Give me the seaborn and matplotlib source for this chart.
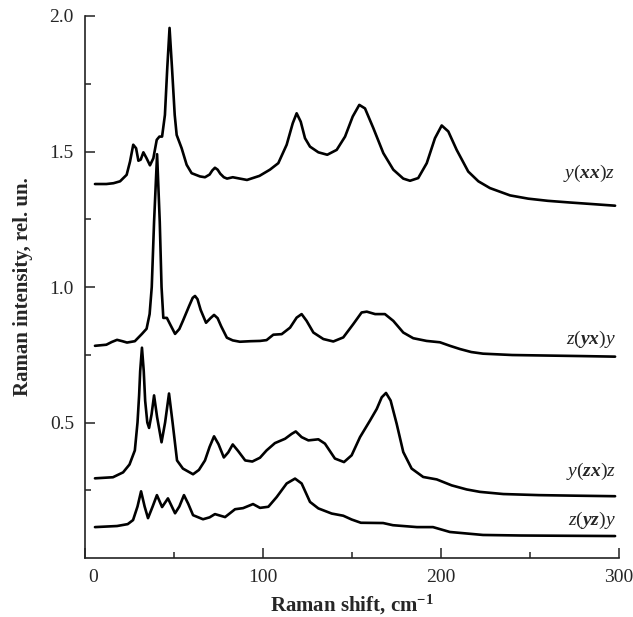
import numpy as np
import pandas as pd
import matplotlib
matplotlib.use("Agg")
import matplotlib.pyplot as plt
import matplotlib.transforms as mtransforms
import seaborn as sns
from matplotlib.ticker import FixedLocator

sns.set_theme(style="ticks")
plt.rcParams['font.family'] = ['Liberation Serif', 'DejaVu Serif']
plt.rcParams['mathtext.fontset'] = 'custom'
plt.rcParams['mathtext.rm'] = 'Liberation Serif'
plt.rcParams['mathtext.it'] = 'Liberation Serif:italic'
plt.rcParams['mathtext.bf'] = 'Liberation Serif:bold:italic'
plt.rcParams['mathtext.sf'] = 'Liberation Serif:bold'

# ---- data (Raman shift cm^-1, intensity rel. un.) ----
xx_x = [5.6, 12, 16, 19.7, 23.4, 25.3, 27.1, 28.7, 30, 31.3, 32.8, 34.6, 36.5, 38.4, 40.3, 41.8, 43.3, 44.9, 46.2,
        47.5, 48.9, 50.4, 51.5, 54.3, 57.1, 59.9, 64.6, 67.4, 70, 71.5, 73, 74.5, 76, 78, 79.8, 83, 87, 91, 98,
        103.9, 108.6, 113.3, 116.7, 118.9, 121.2, 123.6, 126.4, 131.1, 136.1, 141.4, 146.1, 150.4, 154.1,
        157.3, 162, 167.6, 173.2, 178.8, 182.6, 187.2, 192, 196.6, 200.4, 204.1, 208.8, 215.3, 221, 227.5,
        238.8, 249, 260, 272, 285, 297.8]
xx_y = [1.38, 1.38, 1.383, 1.39, 1.414, 1.463, 1.525, 1.512, 1.466, 1.47, 1.497, 1.475, 1.449, 1.475, 1.543, 1.555, 1.555, 1.635, 1.806,
        1.956, 1.806, 1.635, 1.561, 1.512, 1.451, 1.42, 1.408, 1.405, 1.415, 1.43, 1.44, 1.433, 1.418, 1.405, 1.40, 1.405, 1.40, 1.395, 1.41,
        1.433, 1.457, 1.525, 1.604, 1.641, 1.61, 1.549, 1.518, 1.497, 1.488, 1.506, 1.555, 1.629, 1.672,
        1.659, 1.586, 1.494, 1.433, 1.40, 1.392, 1.402, 1.457, 1.549, 1.596, 1.574, 1.506, 1.426, 1.39, 1.365,
        1.338, 1.326, 1.318, 1.312, 1.306, 1.30]

yx_x = [5.6, 12, 15, 18, 21, 23.6, 28, 32, 34.6, 36.3, 37.5, 38.8, 40.5, 42, 43, 44, 46, 48, 50.6, 53, 55,
        58.5, 60.5, 61.8, 63.2, 65, 68, 70.5, 72.5, 74.5, 76.5, 79.7, 83, 87, 93, 98.3, 102, 105.8, 110.5,
        115.2, 118.9, 121.7, 124.5, 128.3, 133.9, 139.5, 145.1, 150.7, 155.4, 158.3, 163, 168.5, 173.2,
        178.8, 184.4, 191.9, 199.4, 205, 210.7, 217, 223.6, 240, 260, 280, 297.8]
yx_y = [0.783, 0.787, 0.797, 0.805, 0.80, 0.795, 0.80, 0.827, 0.846, 0.90, 1.00, 1.24, 1.49, 1.24, 1.00, 0.886, 0.886, 0.86, 0.827, 0.845, 0.875,
        0.93, 0.96, 0.967, 0.955, 0.915, 0.868, 0.885, 0.897, 0.885, 0.855, 0.813, 0.803, 0.798, 0.80, 0.801, 0.804, 0.824, 0.826,
        0.85, 0.887, 0.90, 0.875, 0.832, 0.808, 0.799, 0.814, 0.863, 0.906, 0.909, 0.90, 0.90, 0.875,
        0.832, 0.811, 0.801, 0.796, 0.783, 0.771, 0.76, 0.754, 0.749, 0.747, 0.745, 0.743]

zx_x = [5.6, 15.7, 21.4, 25, 28, 29.5, 30.4, 31, 32, 33, 33.8, 35, 36, 37.4, 38.8, 40.5, 43, 45, 47.2, 49.2,
        51.7, 55, 60.7, 64, 67.4, 70, 72.5, 75, 78, 80.5, 83, 86, 90, 94, 98.3, 102, 106.7, 112.4, 116.1,
        118.4, 121.7, 125.5, 131.1, 134.8, 140.4, 145.5, 149.8, 154.5, 160.1, 163.9, 166.7, 169.1, 171.7,
        175.1, 178.8, 183.5, 190, 197.6, 206, 214.4, 221.9, 235, 255, 275, 297.8]
zx_y = [0.294, 0.298, 0.316, 0.345, 0.397, 0.50, 0.60, 0.69, 0.776, 0.69, 0.58, 0.50, 0.48, 0.53, 0.60, 0.52, 0.427, 0.50, 0.607, 0.50,
        0.36, 0.33, 0.309, 0.325, 0.36, 0.41, 0.449, 0.42, 0.371, 0.39, 0.419, 0.395, 0.36, 0.356, 0.370, 0.397, 0.424, 0.44, 0.458,
        0.467, 0.446, 0.434, 0.438, 0.422, 0.367, 0.354, 0.379, 0.446, 0.507, 0.55, 0.593, 0.609, 0.581,
        0.495, 0.391, 0.33, 0.299, 0.29, 0.268, 0.253, 0.244, 0.236, 0.232, 0.230, 0.228]

yz_x = [5.6, 18, 24, 27, 29.5, 31.5, 33.5, 35.4, 38, 40.4, 43.3, 46.6, 50.6, 53, 55.6, 58, 60.7, 66.3, 70, 73,
        78.7, 84.3, 88.8, 94.4, 98.3, 103, 107.7, 113.3, 118, 121.7, 126.4, 131.1, 138.6, 145.1, 149.8, 155,
        167.5, 173, 186.5, 195.5, 205, 223.6, 245, 270, 297.8]
yz_y = [0.114, 0.118, 0.125, 0.14, 0.19, 0.246, 0.19, 0.147, 0.19, 0.232, 0.188, 0.22, 0.165, 0.19, 0.232, 0.20, 0.158, 0.143, 0.15, 0.162,
        0.151, 0.18, 0.184, 0.199, 0.185, 0.189, 0.225, 0.275, 0.293, 0.275, 0.207, 0.183, 0.164, 0.156, 0.142, 0.13,
        0.129, 0.121, 0.114, 0.114, 0.096, 0.085, 0.083, 0.082, 0.081]

labels = [r'$y(\mathbf{xx})z$', r'$z(\mathbf{yx})y$', r'$y(\mathbf{zx})z$', r'$z(\mathbf{yz})y$']
label_y = [1.42, 0.805, 0.32, 0.14]

series = [(xx_x, xx_y), (yx_x, yx_y), (zx_x, zx_y), (yz_x, yz_y)]

fig = plt.figure(figsize=(6.33, 6.17), dpi=100)
ax = fig.add_axes([85/633, 59/617, (619-85)/633, (558-16)/617])

for i, (xs, ys) in enumerate(series):
    df = pd.DataFrame({'x': xs, 'y': ys})
    sns.lineplot(data=df, x='x', y='y', ax=ax, color='black', lw=1.9,
                 sort=False, estimator=None, solid_joinstyle='round', solid_capstyle='round')

for lab, ly in zip(labels, label_y):
    ax.text(298, ly, lab, ha='right', va='center', fontsize=14)

ax.set_xlim(0, 300)
ax.set_ylim(0, 2.0)
ax.xaxis.set_major_locator(FixedLocator([0, 100, 200, 300]))
ax.xaxis.set_minor_locator(FixedLocator([50, 150, 250]))
ax.yaxis.set_major_locator(FixedLocator([0.5, 1.0, 1.5, 2.0]))
ax.yaxis.set_minor_locator(FixedLocator([0.25, 0.75, 1.25, 1.75]))
ax.set_yticklabels(['0.5', '1.0', '1.5', '2.0'])
ax.tick_params(which='both', direction='in', color='#222222', width=1.1, labelsize=14, pad=8)
ax.tick_params(which='major', length=7)
ax.tick_params(which='minor', length=4)
for s in ['top', 'right']:
    ax.spines[s].set_visible(False)
for s in ['left', 'bottom']:
    ax.spines[s].set_linewidth(1.2)
    ax.spines[s].set_color('#222222')

# the "0" label sits slightly right of its tick in the reference
first = ax.get_xticklabels()[0]
first.set_transform(first.get_transform() +
                    mtransforms.ScaledTranslation(8/100, 0, fig.dpi_scale_trans))

ax.set_xlabel(r'Raman shift, cm$^{\mathsf{-1}}$', fontsize=15, fontweight='bold', labelpad=5)
ax.set_ylabel('Raman intensity, rel. un.', fontsize=15, fontweight='bold', labelpad=12)

fig.savefig('out.png', dpi=100)
